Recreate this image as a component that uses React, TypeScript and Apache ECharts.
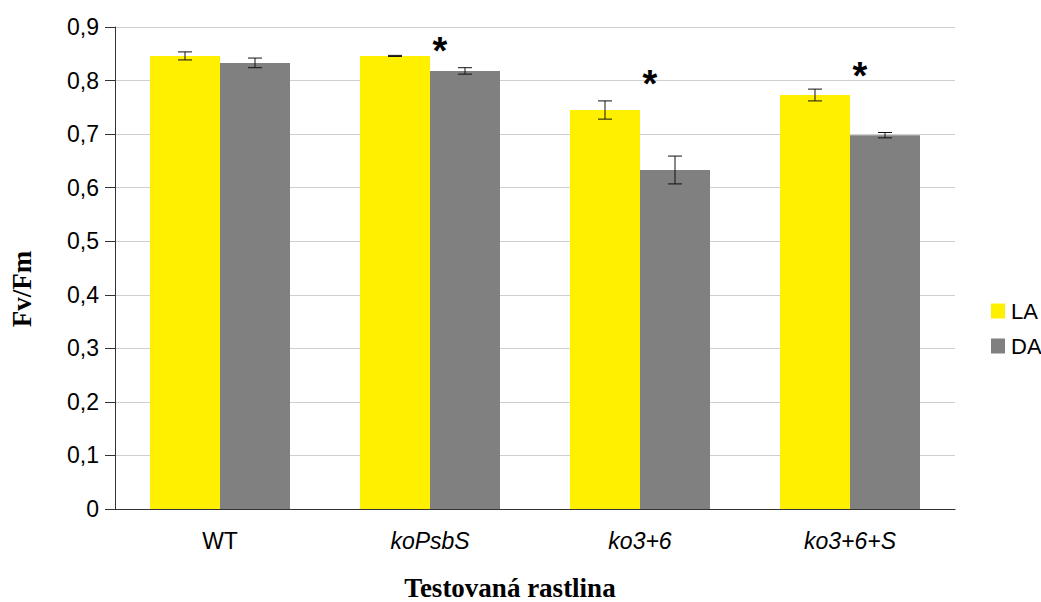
import React, { useEffect, useRef } from "react";
import * as echarts from "echarts";

const categories = ["WT", "koPsbS", "ko3+6", "ko3+6+S"];
const italicCats = [false, true, true, true];
const laValues = [0.846, 0.846, 0.745, 0.773];
const daValues = [0.833, 0.818, 0.633, 0.698];
const laErrors = [0.0075, 0.001, 0.017, 0.011];
const daErrors = [0.009, 0.006, 0.026, 0.005];
// significance marks, placed over the DA bar of each group (value = vertical position)
const starHeights = [null, 0.866, 0.805, 0.82];

const barW = 70;

export default function App() {
  const ref = useRef<HTMLDivElement>(null);
  useEffect(() => {
    const chart = echarts.init(ref.current!, null, { renderer: "svg" });
    const errData = (vals: number[], errs: number[]) =>
      vals.map((v, i) => [i, v, errs[i]]);
    const errSeries = (name: string, vals: number[], errs: number[], shift: number) => ({
      type: "custom",
      name: name + "_err",
      z: 5,
      silent: true,
      data: errData(vals, errs),
      renderItem: (_p: any, api: any) => {
        const i = api.value(0);
        const v = api.value(1);
        const e = api.value(2);
        const top = api.coord([i, v + e]);
        const bot = api.coord([i, v - e]);
        const x = top[0] + shift;
        const cap = 7;
        const style = { stroke: "#111", lineWidth: 1 };
        return {
          type: "group",
          children: [
            { type: "line", shape: { x1: x, y1: top[1], x2: x, y2: bot[1] }, style },
            { type: "line", shape: { x1: x - cap, y1: top[1], x2: x + cap, y2: top[1] }, style },
            { type: "line", shape: { x1: x - cap, y1: bot[1], x2: x + cap, y2: bot[1] }, style },
          ],
        };
      },
    });
    const starData = starHeights
      .map((h, i) => (h == null ? null : [i, h]))
      .filter((d) => d !== null);

    chart.setOption({
      animation: false,
      grid: { left: 115, right: 86, top: 27, bottom: 93, containLabel: false },
      legend: {
        orient: "vertical",
        left: 986,
        top: 295,
        itemWidth: 14,
        itemHeight: 15,
        itemGap: 13,
        icon: "rect",
        data: ["LA", "DA"],
        textStyle: { fontFamily: "Liberation Sans", fontSize: 22, color: "#000", padding: [0, 0, 0, 1] },
      },
      xAxis: {
        type: "category",
        data: categories,
        axisLine: { lineStyle: { color: "#333", width: 1 } },
        axisTick: { length: 10, lineStyle: { color: "#333" } },
        axisLabel: {
          margin: 20,
          formatter: (val: string) => {
            const i = categories.indexOf(val);
            return italicCats[i] ? "{i|" + val + "}" : "{n|" + val + "}";
          },
          rich: {
            n: { fontFamily: "Liberation Sans", fontSize: 23, color: "#000" },
            i: { fontFamily: "Liberation Sans", fontSize: 23, color: "#000", fontStyle: "italic" },
          },
        },
      },
      yAxis: {
        type: "value",
        min: 0,
        max: 0.9,
        interval: 0.1,
        axisLine: { show: true, lineStyle: { color: "#333", width: 1 } },
        axisTick: { show: true, length: 10, lineStyle: { color: "#333" } },
        splitLine: { lineStyle: { color: "#cfcfcf", width: 1 } },
        axisLabel: {
          margin: 16,
          fontFamily: "Liberation Sans",
          fontSize: 23,
          color: "#000",
          formatter: (v: number) => (v === 0 ? "0" : v.toFixed(1).replace(".", ",")),
        },
      },
      series: [
        {
          type: "bar",
          name: "LA",
          data: laValues,
          barWidth: barW,
          barGap: "0%",
          itemStyle: { color: "#FFF000" },
        },
        {
          type: "bar",
          name: "DA",
          data: daValues,
          barWidth: barW,
          itemStyle: { color: "#808080" },
        },
        errSeries("LA", laValues, laErrors, -barW / 2),
        errSeries("DA", daValues, daErrors, barW / 2),
        {
          type: "custom",
          name: "sig",
          z: 6,
          silent: true,
          data: starData,
          renderItem: (_p: any, api: any) => {
            const pt = api.coord([api.value(0), api.value(1)]);
            return {
              type: "text",
              x: pt[0] + 10,
              y: pt[1] + 6,
              style: {
                text: "*",
                fontFamily: "Liberation Sans",
                fontSize: 38,
                fontWeight: "bold",
                fill: "#000",
                align: "center",
                verticalAlign: "middle",
              },
            };
          },
        },
      ],
      graphic: [
        {
          type: "text",
          x: 22,
          y: 289,
          rotation: Math.PI / 2,
          style: {
            text: "Fv/Fm",
            fontFamily: "Liberation Serif",
            fontWeight: "bold",
            fontSize: 27,
            fill: "#000",
            align: "center",
            verticalAlign: "middle",
          },
        },
        {
          type: "text",
          x: 510,
          y: 601,
          style: {
            text: "Testovaná rastlina",
            fontFamily: "Liberation Serif",
            fontWeight: "bold",
            fontSize: 27,
            lineHeight: 27,
            fill: "#000",
            align: "center",
            verticalAlign: "bottom",
          },
        },
      ],
    });
    return () => chart.dispose();
  }, []);
  return (
    <div
      ref={ref}
      style={{ position: "fixed", left: 0, top: 0, width: 1041, height: 602, background: "#fff" }}
    />
  );
}
